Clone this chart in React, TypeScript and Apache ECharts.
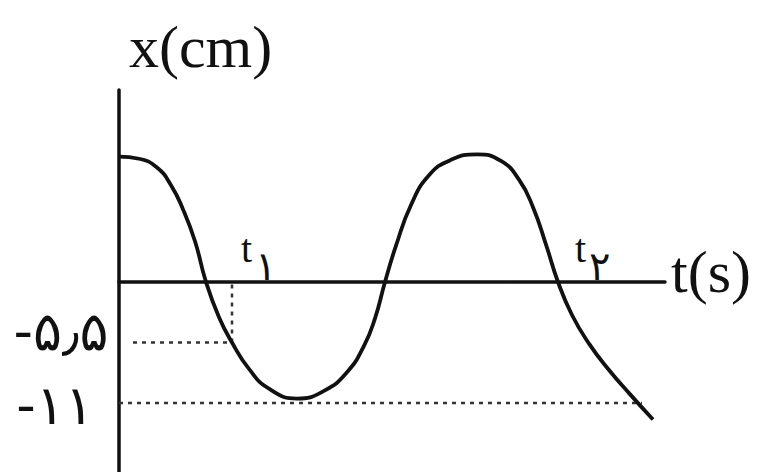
import React, { useEffect, useRef } from "react";
import * as echarts from "echarts";

// Curve: time (arbitrary units) and displacement (cm)
const curveT = [0, 0.2, 0.38, 0.52, 0.64, 0.76, 0.87, 1.0, 1.13, 1.3, 1.5, 1.78, 2.05, 2.28, 2.45, 2.56, 2.66, 2.77, 2.92, 3.1, 3.32, 3.58, 3.82, 4.0, 4.14, 4.27, 4.39, 4.53, 4.7, 4.9, 5.1, 5.34];
const curveX = [11.4, 11.2, 10.4, 8.8, 6.6, 3.7, 0, -3.2, -5.5, -7.9, -9.7, -10.6, -9.9, -8.2, -5.8, -3.3, 0, 3.3, 7.0, 9.7, 11.1, 11.6, 11.0, 9.3, 6.8, 3.4, 0, -3.0, -5.6, -8.0, -10.1, -12.5];

// Reference levels (cm) and their labels
const levelHalf = -5.5;
const levelFull = -11;
const levelLabels = ["-۵٫۵", "-۱۱"];
// Times of guide lines
const t1 = 1.13;
const halfGuideStart = 0.14;
const fullGuideEnd = 5.23;
const timeLabels = ["۱", "۲"];

const tMax = 5.46;
const xMin = -17.27;
const xMax = 17.45;

export default function App() {
  const ref = useRef<HTMLDivElement>(null);
  useEffect(() => {
    if (!ref.current) return;
    const chart = echarts.init(ref.current, null, { renderer: "svg" });
    const ink = "#111";
    const dotted = { color: "#333", width: 2.5, type: [4, 5] as any };
    const serif = '"Liberation Serif", "Times New Roman", serif';
    const persian = '"DejaVu Sans", sans-serif';
    chart.setOption({
      animation: false,
      backgroundColor: "#fff",
      grid: { left: 119, top: 90, width: 546, height: 382 },
      xAxis: {
        type: "value",
        min: 0,
        max: tMax,
        axisLine: { onZero: true, lineStyle: { color: ink, width: 3.5 } },
        axisTick: { show: false },
        axisLabel: { show: false },
        splitLine: { show: false },
      },
      yAxis: {
        type: "value",
        min: xMin,
        max: xMax,
        axisLine: { show: true, onZero: true, lineStyle: { color: ink, width: 3.5 } },
        axisTick: { show: false },
        axisLabel: { show: false },
        splitLine: { show: false },
      },
      series: [
        {
          type: "line",
          data: [[halfGuideStart, levelHalf], [t1, levelHalf]],
          symbol: "none",
          lineStyle: dotted,
          z: 1,
        },
        {
          type: "line",
          data: [[t1, levelHalf], [t1, 0]],
          symbol: "none",
          lineStyle: dotted,
          z: 1,
        },
        {
          type: "line",
          data: [[0, levelFull], [fullGuideEnd, levelFull]],
          symbol: "none",
          lineStyle: dotted,
          z: 1,
        },
        {
          type: "line",
          data: curveT.map((t, i) => [t, curveX[i]]),
          smooth: 0.5,
          symbol: "none",
          lineStyle: { color: ink, width: 3.8 },
          z: 3,
        },
      ],
      graphic: [
        { type: "text", x: 129, y: 47, style: { text: "x(cm)", font: `60px ${serif}`, fill: ink, align: "left", verticalAlign: "middle" } },
        { type: "text", x: 671, y: 272, style: { text: "t(s)", font: `60px ${serif}`, fill: ink, align: "left", verticalAlign: "middle" } },
        { type: "text", x: 61, y: 331, style: { text: levelLabels[0], font: `54px ${persian}`, fill: ink, align: "center", verticalAlign: "middle" } },
        { type: "text", x: 55, y: 405, style: { text: levelLabels[1], font: `54px ${persian}`, fill: ink, align: "center", verticalAlign: "middle" } },
        { type: "text", x: 241, y: 248, style: { text: "t", font: `40px ${serif}`, fill: ink, align: "left", verticalAlign: "middle" } },
        { type: "text", x: 255, y: 266, style: { text: timeLabels[0], font: `40px ${persian}`, fill: ink, align: "left", verticalAlign: "middle" } },
        { type: "text", x: 575, y: 248, style: { text: "t", font: `40px ${serif}`, fill: ink, align: "left", verticalAlign: "middle" } },
        { type: "text", x: 589, y: 266, style: { text: timeLabels[1], font: `40px ${persian}`, fill: ink, align: "left", verticalAlign: "middle" } },
      ],
    });
    return () => chart.dispose();
  }, []);
  return (
    <div
      ref={ref}
      style={{ position: "fixed", left: 0, top: 0, width: 763, height: 472, background: "#fff" }}
    />
  );
}
